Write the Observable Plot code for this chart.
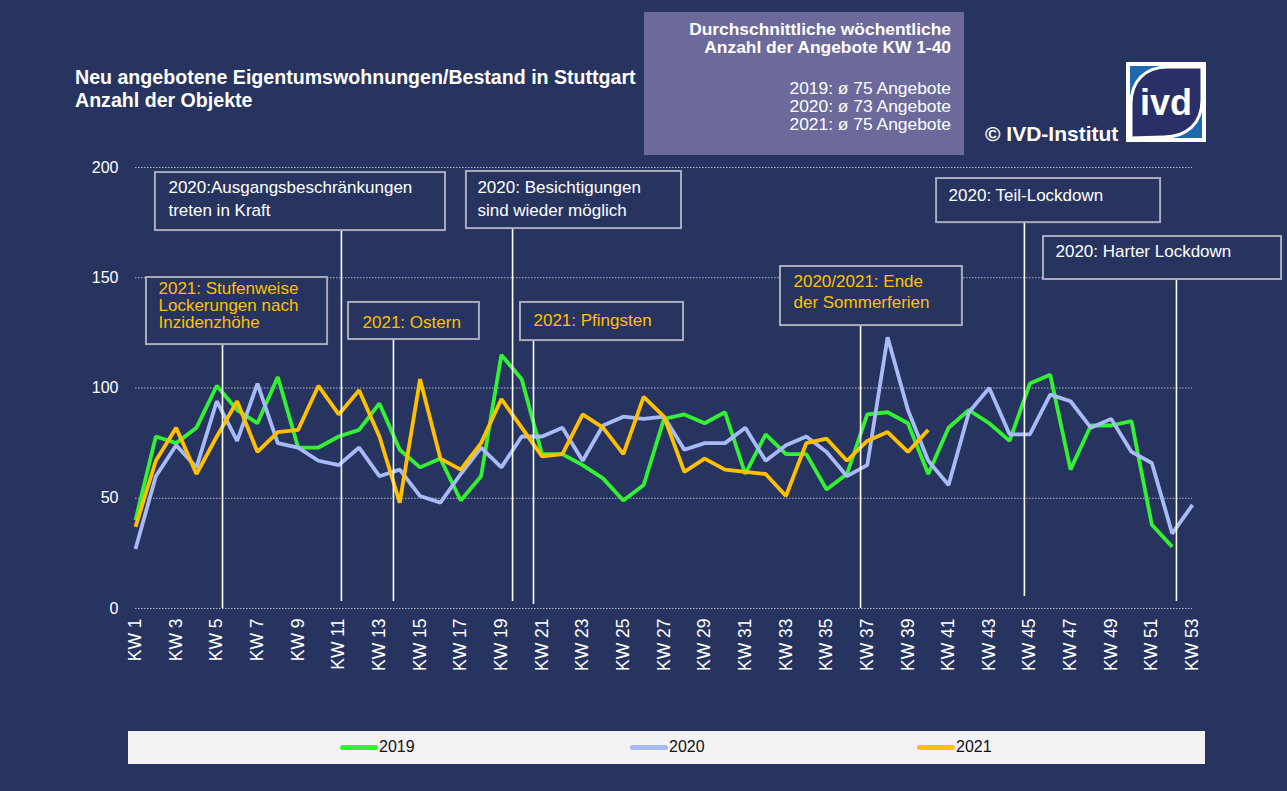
<!DOCTYPE html>
<html><head><meta charset="utf-8">
<script src="https://cdn.jsdelivr.net/npm/d3@7"></script>
<script src="https://cdn.jsdelivr.net/npm/@observablehq/plot@0.6"></script>
<style>
html,body{margin:0;padding:0;}
body{width:1287px;height:791px;background:#27345f;position:relative;overflow:hidden;font-family:"Liberation Sans",Arial,sans-serif;color:#fff;}
.abs{position:absolute;}
#title{left:75px;top:66px;font-weight:bold;font-size:19.6px;line-height:23px;white-space:nowrap;}
#avg{left:644px;top:12px;width:320px;height:143px;background:#6b6a9b;}
#avg .t{position:absolute;right:13px;text-align:right;white-space:nowrap;font-size:17.4px;line-height:18px;}
#copy{left:985px;top:122px;font-weight:bold;font-size:21px;white-space:nowrap;}
#logo{left:1126px;top:62px;}
#chart{left:0;top:0;}
#legend{left:128px;top:731px;width:1077px;height:33px;background:#f2f2f2;}
#legend .it{position:absolute;top:7px;display:flex;align-items:center;font-family:"Liberation Sans Narrow","Arial Narrow","Liberation Sans",sans-serif;font-size:16px;color:#111;}
#legend .sw{width:38px;height:5px;border-radius:3px;margin-right:1px;}
</style></head>
<body>
<div id="title" class="abs">Neu angebotene Eigentumswohnungen/Bestand in Stuttgart<br>Anzahl der Objekte</div>
<div id="avg" class="abs">
  <div class="t" style="top:8px;font-weight:bold;">Durchschnittliche wöchentliche<br>Anzahl der Angebote KW 1-40</div>
  <div class="t" style="top:67px;">2019: ø 75 Angebote<br>2020: ø 73 Angebote<br>2021: ø 75 Angebote</div>
</div>
<div id="copy" class="abs">© IVD-Institut</div>
<svg id="logo" class="abs" width="80" height="80" viewBox="0 0 80 80">
  <rect width="80" height="80" fill="#fff"/>
  <rect x="4" y="4" width="72" height="72" fill="#1f69ad"/>
  <path d="M5,76 L5,42 C5,19 19,5 42,5 L76,5 L76,38 C76,61 61,75 38,75 Z" fill="#2b2f68" stroke="#fff" stroke-width="3"/>
  <text x="40" y="53" text-anchor="middle" font-family="Liberation Sans, Arial, sans-serif" font-weight="bold" font-size="36" fill="#fff">ivd</text>
</svg>
<div id="chart" class="abs"></div>
<div id="legend" class="abs"></div>
<script>
// ---- data ----
const weeks = [1,2,3,4,5,6,7,8,9,10,11,12,13,14,15,16,17,18,19,20,21,22,23,24,25,26,27,28,29,30,31,32,33,34,35,36,37,38,39,40,41,42,43,44,45,46,47,48,49,50,51,52,53];
const years = ["2019","2020","2021"];
const values2019 = [40,78,75,82,101,90,84,105,73,73,78,81,93,72,64,68,49,60,115,104,70,70,65,59,49,56,86,88,84,89,61,79,70,70,54,61,88,89,84,61,82,90,84,76,102,106,63,83,83,85,38,28];
const values2020 = [27,60,74,64,94,76,102,75,73,67,65,73,60,63,51,48,61,73,64,78,78,82,67,83,87,86,87,72,75,75,82,67,74,78,71,60,65,123,90,67,56,89,100,79,79,97,94,82,86,71,66,34,47];
const values2021 = [37,67,82,61,78,94,71,80,81,101,88,99,78,48,104,68,63,75,95,82,69,70,88,82,70,96,87,62,68,63,62,61,51,75,77,67,76,80,71,81];
const yTicks = [0,50,100,150,200];
const xTicks = [1,3,5,7,9,11,13,15,17,19,21,23,25,27,29,31,33,35,37,39,41,43,45,47,49,51,53];
const tickLabel = d => "KW " + d;

// annotation texts and their anchor weeks
const annotationTexts = [
  "2020:Ausgangsbeschränkungen\ntreten in Kraft",
  "2020: Besichtigungen\nsind wieder möglich",
  "2021: Stufenweise\nLockerungen nach\nInzidenzhöhe",
  "2021: Ostern",
  "2021: Pfingsten",
  "2020/2021: Ende\nder Sommerferien",
  "2020: Teil-Lockdown",
  "2020: Harter Lockdown"
];
const annotationWeeks = [11.13, 19.55, 5.28, 13.69, 20.58, 36.67, 44.73, 52.21];

// ---- layout of annotation boxes (in chart units) ----
const WHITE = "#ffffff", ORANGE = "#ffc000";
const annLayout = [
  {x1:1.98,  x2:16.25, y1:171.4, y2:197.7, tx:2.62,  ty:195.6, end:3.2, color:WHITE,  lh:1.33},
  {x1:17.28, x2:27.86, y1:172.3, y2:198.2, tx:17.82, ty:195.7, end:3.2, color:WHITE,  lh:1.33},
  {x1:1.54,  x2:10.45, y1:119.7, y2:150.1, tx:2.13,  ty:148.2, end:0,   color:ORANGE, lh:1.0},
  {x1:11.48, x2:17.92, y1:122.0, y2:138.8, tx:12.17, ty:134.0, end:3.2, color:ORANGE, lh:1.2},
  {x1:19.94, x2:27.96, y1:121.5, y2:138.8, tx:20.58, ty:134.5, end:1.8, color:ORANGE, lh:1.2},
  {x1:32.73, x2:41.68, y1:128.3, y2:155.1, tx:33.37, ty:152.6, end:0,   color:ORANGE, lh:1.24},
  {x1:40.41, x2:51.43, y1:175.0, y2:195.0, tx:41.0,  ty:191.6, end:5.4, color:WHITE,  lh:1.2},
  {x1:45.67, x2:57.38, y1:149.2, y2:168.7, tx:46.26, ty:165.8, end:3.2, color:WHITE,  lh:1.2}
];
const annotations = annotationTexts.map((t, i) => ({label: t, kw: annotationWeeks[i], ...annLayout[i]}));

const seriesColors = {"2019": "#33f233", "2020": "#a6bbf7", "2021": "#ffc000"};
const toRows = (vals) => vals.map((v, i) => ({kw: weeks[i], value: v}));
const series = {"2019": toRows(values2019), "2020": toRows(values2020), "2021": toRows(values2021)};

const BG = "#27345f";
const H = 700;
const chart = Plot.plot({
  width: 1287,
  height: H,
  marginLeft: 135,
  marginRight: 95,
  marginTop: 167,
  marginBottom: H - 608,
  style: {background: "transparent", color: "#fff", fontSize: "15px", fontFamily: "Liberation Sans, Arial, sans-serif", overflow: "visible"},
  x: {type: "linear", domain: [1, 53]},
  y: {domain: [0, 200]},
  marks: [
    Plot.gridY(yTicks, {stroke: "#c9cbd6", strokeOpacity: 0.85, strokeWidth: 1, strokeDasharray: "1.5,1.5"}),
    Plot.axisY(yTicks, {tickSize: 0, tickPadding: 17, fontSize: 16, label: null}),
    Plot.axisX(xTicks, {tickSize: 0, tickPadding: 10, tickRotate: -90, tickFormat: tickLabel, fontSize: 17.5, label: null}),
    ...years.map(y => Plot.line(series[y], {x: "kw", y: "value", stroke: seriesColors[y], strokeWidth: 3.8, strokeLinejoin: "miter", strokeLinecap: "butt"})),
    Plot.ruleX(annotations, {x: "kw", y1: "end", y2: "y1", stroke: "#fff", strokeWidth: 1.6}),
    Plot.rect(annotations, {x1: "x1", x2: "x2", y1: "y1", y2: "y2", fill: BG, stroke: "#a8abbb", strokeWidth: 2}),
    ...annotations.map(a => Plot.text([a], {x: "tx", y: "ty", text: "label", fill: a.color, textAnchor: "start", lineAnchor: "top", lineHeight: a.lh, fontSize: 17}))
  ]
});
document.getElementById("chart").appendChild(chart);

// legend
const legendPos = {"2019": 212, "2020": 502, "2021": 789};
const legend = document.getElementById("legend");
years.forEach(y => {
  const it = document.createElement("div");
  it.className = "it";
  it.style.left = legendPos[y] + "px";
  it.innerHTML = `<div class="sw" style="background:${seriesColors[y]}"></div><span>${y}</span>`;
  legend.appendChild(it);
});
</script>
</body></html>
